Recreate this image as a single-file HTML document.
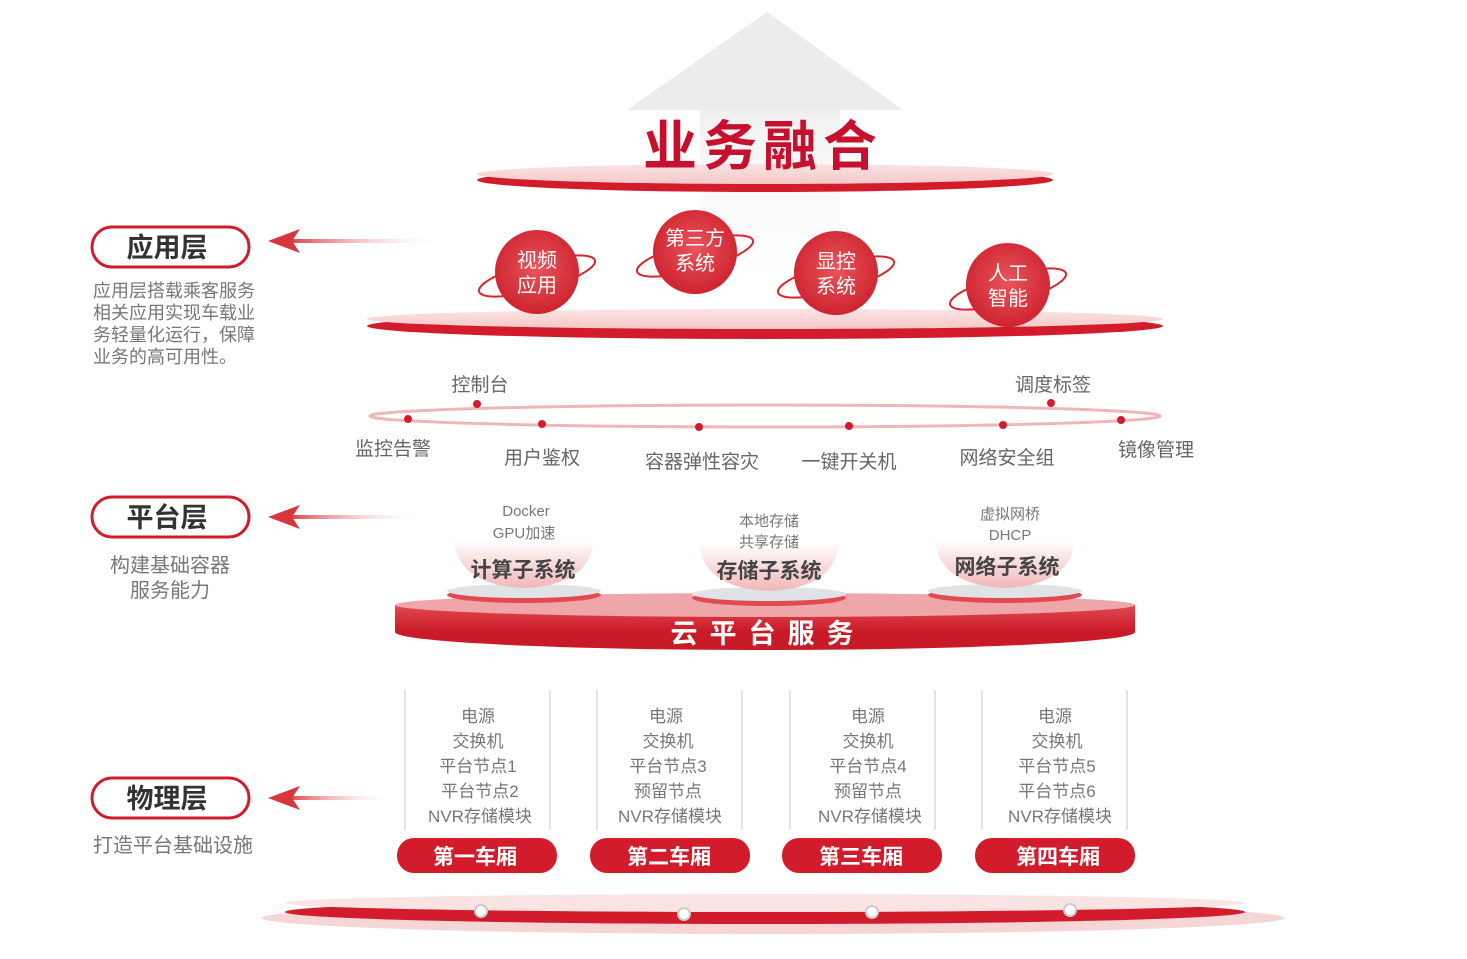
<!DOCTYPE html>
<html><head><meta charset="utf-8"><style>
body{margin:0;background:#fff;}
svg text{font-family:"Liberation Sans","Noto Sans CJK SC",sans-serif;}
</style></head><body>
<svg width="1467" height="954" viewBox="0 0 1467 954" xmlns="http://www.w3.org/2000/svg">
<defs>
<linearGradient id="shaft" x1="0" y1="0" x2="0" y2="1"><stop offset="0" stop-color="#f0f0f0"/><stop offset="1" stop-color="#fff" stop-opacity="0"/></linearGradient>
<linearGradient id="top1" x1="0" y1="0" x2="0" y2="1"><stop offset="0" stop-color="#fbe3e3"/><stop offset="1" stop-color="#f5c8c8"/></linearGradient>
<radialGradient id="ball" cx="0.5" cy="0.45" r="0.6"><stop offset="0" stop-color="#e8555a"/><stop offset="1" stop-color="#cc1f2c"/></radialGradient>
<linearGradient id="cup" x1="0" y1="0" x2="0" y2="1"><stop offset="0" stop-color="#fff"/><stop offset="1" stop-color="#f1b7b7"/></linearGradient>
<linearGradient id="cloud" x1="0" y1="0" x2="0" y2="1"><stop offset="0" stop-color="#e14a50"/><stop offset="1" stop-color="#c91a28"/></linearGradient>
<linearGradient id="arr" x1="0" y1="0" x2="1" y2="0"><stop offset="0" stop-color="#d9353d"/><stop offset="1" stop-color="#fff" stop-opacity="0"/></linearGradient>
</defs>
<polygon points="767,12 903,110 627,110" fill="#ececec"/>
<rect x="700" y="110" width="140" height="200" fill="url(#shaft)"/>
<ellipse cx="765" cy="180" rx="288" ry="12" fill="#d21c2c"/>
<ellipse cx="765" cy="174" rx="288" ry="10" fill="url(#top1)"/>
<text x="763" y="165" font-size="54" fill="#c8102e" text-anchor="middle" font-weight="bold" letter-spacing="6">业务融合</text>
<ellipse cx="765" cy="326" rx="398" ry="13" fill="#d21c2c"/>
<ellipse cx="765" cy="319" rx="398" ry="10" fill="url(#top1)"/>
<g font-size="20" fill="#fff" text-anchor="middle">
<ellipse cx="537" cy="276" rx="60" ry="14" fill="none" stroke="#d8262f" stroke-width="2" transform="rotate(-15 537 276)"/>
<circle cx="537" cy="272" r="42" fill="url(#ball)"/><text x="537" y="267">视频</text><text x="537" y="292">应用</text>
<ellipse cx="695" cy="256" rx="60" ry="14" fill="none" stroke="#d8262f" stroke-width="2" transform="rotate(-15 695 256)"/>
<circle cx="695" cy="252" r="42" fill="url(#ball)"/><text x="695" y="245">第三方</text><text x="695" y="270">系统</text>
<ellipse cx="836" cy="277" rx="60" ry="14" fill="none" stroke="#d8262f" stroke-width="2" transform="rotate(-15 836 277)"/>
<circle cx="836" cy="273" r="42" fill="url(#ball)"/><text x="836" y="268">显控</text><text x="836" y="293">系统</text>
<ellipse cx="1008" cy="289" rx="60" ry="14" fill="none" stroke="#d8262f" stroke-width="2" transform="rotate(-15 1008 289)"/>
<circle cx="1008" cy="285" r="42" fill="url(#ball)"/><text x="1008" y="280">人工</text><text x="1008" y="305">智能</text>
</g>
<ellipse cx="765" cy="416" rx="395" ry="11" fill="none" stroke="#f0b5b8" stroke-width="3"/>
<g fill="#d21c2c">
<circle cx="408" cy="419" r="4"/><circle cx="477" cy="404" r="4"/><circle cx="542" cy="424" r="4"/><circle cx="699" cy="427" r="4"/><circle cx="849" cy="426" r="4"/><circle cx="1003" cy="425" r="4"/><circle cx="1051" cy="403" r="4"/><circle cx="1121" cy="420" r="4"/>
</g>
<g font-size="19" fill="#666" text-anchor="middle">
<text x="480" y="391">控制台</text><text x="1053" y="391">调度标签</text>
<text x="393" y="455">监控告警</text><text x="542" y="464">用户鉴权</text><text x="702" y="468">容器弹性容灾</text><text x="849" y="468">一键开关机</text><text x="1007" y="464">网络安全组</text><text x="1156" y="456">镜像管理</text>
</g>
<g>
<rect x="92" y="227" width="157" height="40" rx="20" fill="#fff" stroke="#d21c2c" stroke-width="3"/>
<text x="167" y="257" font-size="27" font-weight="bold" fill="#333" text-anchor="middle">应用层</text>
<rect x="92" y="497" width="157" height="40" rx="20" fill="#fff" stroke="#d21c2c" stroke-width="3"/>
<text x="167" y="527" font-size="27" font-weight="bold" fill="#333" text-anchor="middle">平台层</text>
<rect x="92" y="778" width="157" height="40" rx="20" fill="#fff" stroke="#d21c2c" stroke-width="3"/>
<text x="167" y="808" font-size="27" font-weight="bold" fill="#333" text-anchor="middle">物理层</text>
<g fill="url(#arr)">
<rect x="285" y="239" width="160" height="4"/><rect x="285" y="515" width="140" height="4"/><rect x="285" y="796" width="110" height="4"/>
</g>
<g fill="#d9353d">
<polygon points="268,241 300,229 292,241 300,253"/><polygon points="268,517 300,505 292,517 300,529"/><polygon points="268,798 300,786 292,798 300,810"/>
</g>
<g font-size="18" fill="#777">
<text x="93" y="297">应用层搭载乘客服务</text><text x="93" y="319">相关应用实现车载业</text><text x="93" y="341">务轻量化运行，保障</text><text x="93" y="363">业务的高可用性。</text>
<text x="170" y="572" text-anchor="middle" font-size="20">构建基础容器</text><text x="170" y="597" text-anchor="middle" font-size="20">服务能力</text>
<text x="93" y="852" font-size="20">打造平台基础设施</text>
</g>
</g>
<ellipse cx="765" cy="632" rx="370" ry="18" fill="#c91a28"/>
<rect x="395" y="605" width="740" height="27" fill="url(#cloud)"/>
<ellipse cx="765" cy="605" rx="370" ry="12" fill="#eea6a8"/>
<text x="768" y="643" font-size="27" font-weight="bold" fill="#fff" text-anchor="middle" letter-spacing="12">云平台服务</text>
<g>
<ellipse cx="524" cy="595" rx="77" ry="8" fill="#e24a50"/><ellipse cx="524" cy="591" rx="77" ry="7" fill="#dfe3e6"/>
<path d="M454 540 Q458 585 524 588 Q590 585 594 540 Z" fill="url(#cup)"/>
<ellipse cx="769" cy="598" rx="77" ry="8" fill="#e24a50"/><ellipse cx="769" cy="594" rx="77" ry="7" fill="#dfe3e6"/>
<path d="M699 543 Q703 588 769 591 Q835 588 839 543 Z" fill="url(#cup)"/>
<ellipse cx="1005" cy="595" rx="77" ry="8" fill="#e24a50"/><ellipse cx="1005" cy="591" rx="77" ry="7" fill="#dfe3e6"/>
<path d="M935 540 Q939 585 1005 588 Q1071 585 1075 540 Z" fill="url(#cup)"/>
</g>
<g text-anchor="middle" fill="#777" font-size="15">
<text x="526" y="516">Docker</text><text x="524" y="538">GPU加速</text>
<text x="769" y="526">本地存储</text><text x="769" y="547">共享存储</text>
<text x="1010" y="519">虚拟网桥</text><text x="1010" y="540">DHCP</text>
</g>
<g text-anchor="middle" fill="#444" font-size="21" font-weight="bold">
<text x="523" y="577">计算子系统</text><text x="769" y="578">存储子系统</text><text x="1007" y="574">网络子系统</text>
</g>
<g stroke="#e4e4e4" stroke-width="2">
<line x1="405" y1="690" x2="405" y2="830"/><line x1="550" y1="690" x2="550" y2="830"/>
<line x1="597" y1="690" x2="597" y2="830"/><line x1="742" y1="690" x2="742" y2="830"/>
<line x1="790" y1="690" x2="790" y2="830"/><line x1="935" y1="690" x2="935" y2="830"/>
<line x1="982" y1="690" x2="982" y2="830"/><line x1="1127" y1="690" x2="1127" y2="830"/>
</g>
<g text-anchor="middle" fill="#777" font-size="17">
<text x="478" y="722">电源</text><text x="478" y="747">交换机</text><text x="478" y="772">平台节点1</text><text x="480" y="797">平台节点2</text><text x="480" y="822">NVR存储模块</text>
<text x="666" y="722">电源</text><text x="668" y="747">交换机</text><text x="668" y="772">平台节点3</text><text x="668" y="797">预留节点</text><text x="670" y="822">NVR存储模块</text>
<text x="868" y="722">电源</text><text x="868" y="747">交换机</text><text x="868" y="772">平台节点4</text><text x="868" y="797">预留节点</text><text x="870" y="822">NVR存储模块</text>
<text x="1055" y="722">电源</text><text x="1057" y="747">交换机</text><text x="1057" y="772">平台节点5</text><text x="1057" y="797">平台节点6</text><text x="1060" y="822">NVR存储模块</text>
</g>
<g fill="#d21c2c">
<rect x="397" y="838" width="160" height="35" rx="17"/><rect x="590" y="838" width="160" height="35" rx="17"/><rect x="782" y="838" width="160" height="35" rx="17"/><rect x="975" y="838" width="160" height="35" rx="17"/>
</g>
<g text-anchor="middle" fill="#fff" font-size="21" font-weight="bold">
<text x="475" y="864">第一车厢</text><text x="669" y="864">第二车厢</text><text x="861" y="864">第三车厢</text><text x="1058" y="864">第四车厢</text>
</g>
<ellipse cx="773" cy="918" rx="511" ry="16" fill="#f6d5d6"/>
<ellipse cx="765" cy="912" rx="480" ry="12" fill="#d21c2c"/>
<ellipse cx="765" cy="903" rx="480" ry="9" fill="#f9e3e3"/>
<g fill="#fff" stroke="#ccc" stroke-width="2">
<circle cx="481" cy="911" r="6"/><circle cx="684" cy="914" r="6"/><circle cx="872" cy="912" r="6"/><circle cx="1070" cy="910" r="6"/>
</g>
</svg>
</body></html>
